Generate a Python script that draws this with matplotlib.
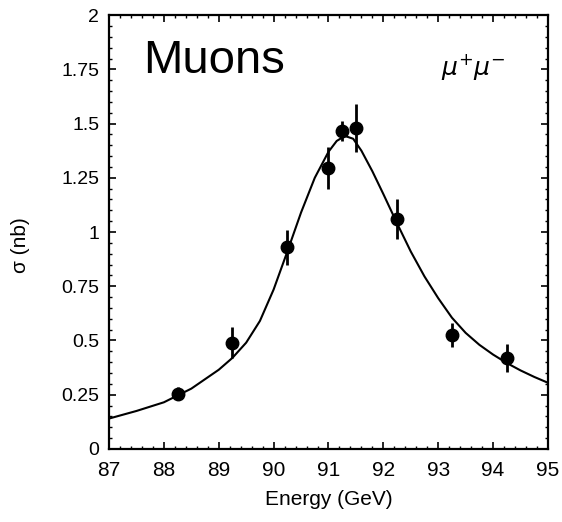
import matplotlib.pyplot as plt
from matplotlib.ticker import MultipleLocator

# measured points (GeV, nb)
energy = [88.25, 89.25, 90.25, 91.0, 91.25, 91.5, 92.25, 93.25, 94.25]
sigma = [0.255, 0.49, 0.93, 1.295, 1.465, 1.48, 1.06, 0.525, 0.42]
sigma_err = [0.03, 0.07, 0.08, 0.095, 0.045, 0.11, 0.09, 0.055, 0.065]

# fitted line shape
fit_e = [87.0, 87.5, 88.0, 88.5, 89.0, 89.25, 89.5, 89.75, 90.0, 90.25, 90.5,
         90.75, 91.0, 91.15, 91.3, 91.45, 91.6, 91.8, 92.0, 92.25, 92.5, 92.75,
         93.0, 93.25, 93.5, 93.75, 94.0, 94.25, 94.5, 94.75, 95.0]
fit_sigma = [0.14, 0.175, 0.215, 0.278, 0.365, 0.42, 0.49, 0.59, 0.735, 0.91, 1.09,
             1.25, 1.37, 1.42, 1.443, 1.43, 1.375, 1.28, 1.175, 1.04, 0.91, 0.795,
             0.695, 0.605, 0.535, 0.48, 0.435, 0.396, 0.362, 0.332, 0.305]

x_ticks = [87, 88, 89, 90, 91, 92, 93, 94, 95]
y_ticks = [0, 0.25, 0.5, 0.75, 1, 1.25, 1.5, 1.75, 2]
y_labels = ['0', '0.25', '0.5', '0.75', '1', '1.25', '1.5', '1.75', '2']

plt.rcParams['font.family'] = ['Liberation Sans', 'DejaVu Sans']

fig = plt.figure(figsize=(5.62, 5.22), dpi=100)
ax = fig.add_axes([0.194, 0.140, 0.781, 0.831])

ax.plot(fit_e, fit_sigma, color='black', lw=1.5)
ax.errorbar(energy, sigma, yerr=sigma_err, fmt='o', color='black',
            ms=9, elinewidth=2, capsize=0)

ax.set_xlim(87, 95)
ax.set_ylim(0, 2)
ax.set_xticks(x_ticks)
ax.set_xticklabels([str(t) for t in x_ticks])
ax.set_yticks(y_ticks)
ax.set_yticklabels(y_labels)
ax.xaxis.set_minor_locator(MultipleLocator(0.2))
ax.yaxis.set_minor_locator(MultipleLocator(0.05))
ax.tick_params(which='both', direction='in', top=True, right=True,
               labeltop=False, labelright=False)
ax.tick_params(which='major', length=5, width=1.2, labelsize=14, pad=7)
ax.tick_params(axis='x', which='major', labelsize=15, pad=9)
ax.tick_params(which='minor', length=2.5, width=1)
for s in ax.spines.values():
    s.set_linewidth(1.6)

ax.set_xlabel('Energy (GeV)', fontsize=15, labelpad=7)
ax.set_ylabel('\u03c3 (nb)', fontsize=15)
ax.yaxis.set_label_coords(-0.18, 0.47)

ax.text(0.078, 0.895, 'Muons', transform=ax.transAxes, fontsize=34,
        ha='left', va='center')
ax.text(0.83, 0.88, r'$\mu^{+}\mu^{-}$', transform=ax.transAxes, fontsize=18,
        ha='center', va='center')

fig.savefig('out.png', dpi=100)
